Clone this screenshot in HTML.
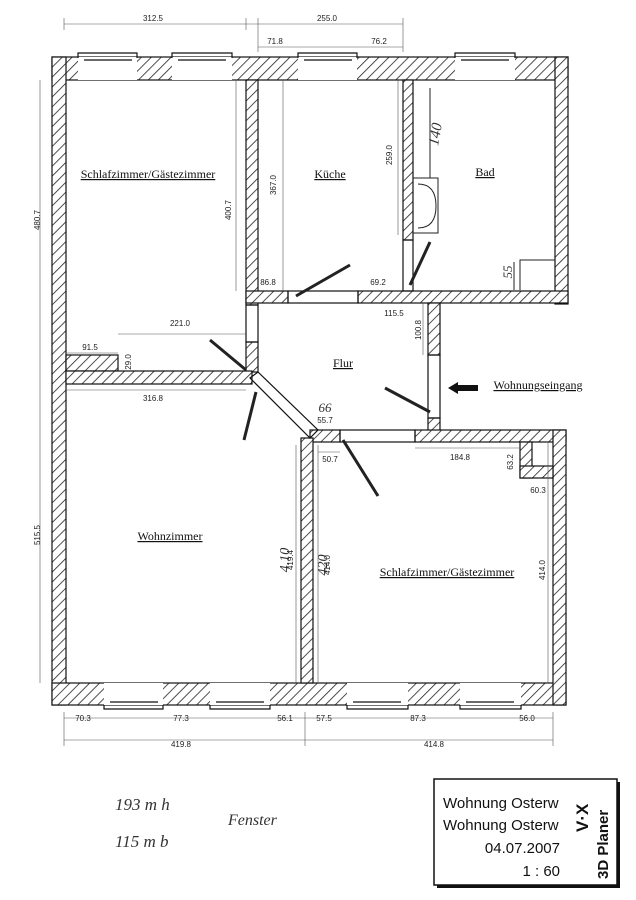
<!DOCTYPE html>
<html><head><meta charset="utf-8"><style>
body{margin:0;background:#fff;}
svg{display:block}
.d{font-family:"Liberation Sans",sans-serif;font-size:8px;fill:#222}
.r{font-family:"Liberation Serif",serif;font-size:12px;fill:#111;text-decoration:underline}
.h{font-family:"Liberation Serif",serif;font-style:italic;font-size:15px;fill:#333}
</style></head><body>
<svg width="636" height="900" viewBox="0 0 636 900" xmlns="http://www.w3.org/2000/svg">
<defs>
<pattern id="hp" patternUnits="userSpaceOnUse" width="7" height="7" patternTransform="rotate(45)">
<rect width="7" height="7" fill="#fff"/><line x1="0" y1="0" x2="0" y2="7" stroke="#222" stroke-width="1.6"/>
</pattern>
</defs>
<g fill="url(#hp)" stroke="#111" stroke-width="1.2">
<!-- top wall -->
<rect x="52" y="57" width="516" height="23"/>
<!-- left wall -->
<rect x="52" y="57" width="14" height="648"/>
<!-- bottom wall -->
<rect x="52" y="683" width="514" height="22"/>
<!-- kueche left wall -->
<rect x="246" y="80" width="12" height="225"/>
<rect x="246" y="342" width="12" height="30"/>
<!-- kueche/bad wall -->
<rect x="403" y="80" width="10" height="160"/>
<!-- bad right wall -->
<rect x="555" y="57" width="13" height="247"/>
<!-- bad/kueche bottom wall -->
<rect x="246" y="291" width="42" height="12"/>
<rect x="358" y="291" width="210" height="12"/>
<!-- flur right wall -->
<rect x="428" y="303" width="12" height="52"/>
<rect x="428" y="418" width="12" height="20"/>
<!-- stub + main horizontal -->
<rect x="66" y="355" width="52" height="16"/>
<rect x="66" y="371" width="186" height="13"/>
<!-- flur bottom wall -->
<rect x="310" y="430" width="30" height="12"/>
<rect x="415" y="430" width="151" height="12"/>
<!-- lower middle wall -->
<rect x="301" y="438" width="12" height="245"/>
<!-- lower right wall -->
<rect x="553" y="430" width="13" height="275"/>
<!-- closet -->
<rect x="520" y="442" width="12" height="36"/>
<rect x="520" y="466" width="33" height="12"/>
</g>
<!-- window openings -->
<g fill="#fff" stroke="#111" stroke-width="1">
<rect x="78" y="57" width="59" height="23" stroke="none"/>
<rect x="172" y="57" width="60" height="23" stroke="none"/>
<rect x="298" y="57" width="59" height="23" stroke="none"/>
<rect x="455" y="57" width="60" height="23" stroke="none"/>
<rect x="104" y="683" width="59" height="22" stroke="none"/>
<rect x="210" y="683" width="60" height="22" stroke="none"/>
<rect x="347" y="683" width="61" height="22" stroke="none"/>
<rect x="460" y="683" width="61" height="22" stroke="none"/>
</g>
<g fill="none" stroke="#111" stroke-width="1.2">
<path d="M78 58 v-5 h59 v5 M84 60 h48"/>
<path d="M172 58 v-5 h60 v5 M178 60 h48"/>
<path d="M298 58 v-5 h59 v5 M304 60 h48"/>
<path d="M455 58 v-5 h60 v5 M461 60 h48"/>
<path d="M104 705 v4 h59 v-4 M110 702 h48"/>
<path d="M210 705 v4 h60 v-4 M216 702 h48"/>
<path d="M347 705 v4 h61 v-4 M353 702 h48"/>
<path d="M460 705 v4 h61 v-4 M466 702 h48"/>
<!-- door frames -->
<rect x="288" y="291" width="70" height="12"/>
<rect x="403" y="240" width="10" height="51"/>
<rect x="246" y="305" width="12" height="37"/>
<rect x="428" y="355" width="12" height="63"/>
<rect x="340" y="430" width="75" height="12"/>
<path d="M250 378 L258 372 L318 430 L310 438 Z"/>
</g>
<!-- door swings -->
<g stroke="#222" stroke-width="3">
<line x1="296" y1="296" x2="350" y2="265"/>
<line x1="410" y1="285" x2="430" y2="242"/>
<line x1="246" y1="370" x2="210" y2="340"/>
<line x1="430" y1="412" x2="385" y2="388"/>
<line x1="343" y1="440" x2="378" y2="496"/>
<line x1="256" y1="392" x2="244" y2="440"/>
</g>
<!-- Bad fixtures -->
<g fill="none" stroke="#222" stroke-width="1">
<path d="M413 178 h25 v55 h-25 M418 184 q18 0 18 22 q0 22 -18 22"/>
<line x1="430" y1="88" x2="430" y2="178"/>
<path d="M520 290 v-30 h35 M514 262 v28"/>
</g>
<!-- dimension lines -->
<g stroke="#555" stroke-width="0.6" fill="none">
<line x1="64" y1="24" x2="403" y2="24"/>
<line x1="258" y1="47" x2="403" y2="47"/>
<line x1="64" y1="18" x2="64" y2="30"/><line x1="246" y1="18" x2="246" y2="30"/><line x1="258" y1="18" x2="258" y2="52"/><line x1="403" y1="18" x2="403" y2="52"/>
<line x1="40" y1="80" x2="40" y2="683"/>
<line x1="64" y1="718" x2="553" y2="718"/>
<line x1="64" y1="740" x2="553" y2="740"/>
<line x1="305" y1="712" x2="305" y2="746"/><line x1="64" y1="712" x2="64" y2="746"/><line x1="553" y1="712" x2="553" y2="746"/>
<line x1="236" y1="80" x2="236" y2="291"/>
<line x1="283" y1="80" x2="283" y2="291"/>
<line x1="398" y1="80" x2="398" y2="235"/>
<line x1="118" y1="334" x2="246" y2="334"/>
<line x1="66" y1="353" x2="118" y2="353"/>
<line x1="66" y1="390" x2="246" y2="390"/>
<line x1="318" y1="452" x2="340" y2="452"/>
<line x1="415" y1="448" x2="520" y2="448"/>
<line x1="423" y1="303" x2="423" y2="355"/>
<line x1="296" y1="445" x2="296" y2="683"/>
<line x1="318" y1="445" x2="318" y2="683"/>
<line x1="548" y1="442" x2="548" y2="683"/>
</g>
<g class="d">
<text x="153" y="21" text-anchor="middle">312.5</text>
<text x="327" y="21" text-anchor="middle">255.0</text>
<text x="275" y="44" text-anchor="middle">71.8</text>
<text x="379" y="44" text-anchor="middle">76.2</text>
<text x="268" y="285" text-anchor="middle">86.8</text>
<text x="378" y="285" text-anchor="middle">69.2</text>
<text x="394" y="316" text-anchor="middle">115.5</text>
<text x="180" y="326" text-anchor="middle">221.0</text>
<text x="90" y="350" text-anchor="middle">91.5</text>
<text x="153" y="401" text-anchor="middle">316.8</text>
<text x="325" y="423" text-anchor="middle">55.7</text>
<text x="330" y="462" text-anchor="middle">50.7</text>
<text x="460" y="460" text-anchor="middle">184.8</text>
<text x="538" y="493" text-anchor="middle">60.3</text>
<text x="83" y="721" text-anchor="middle">70.3</text>
<text x="181" y="721" text-anchor="middle">77.3</text>
<text x="285" y="721" text-anchor="middle">56.1</text>
<text x="324" y="721" text-anchor="middle">57.5</text>
<text x="418" y="721" text-anchor="middle">87.3</text>
<text x="527" y="721" text-anchor="middle">56.0</text>
<text x="181" y="747" text-anchor="middle">419.8</text>
<text x="434" y="747" text-anchor="middle">414.8</text>
<text transform="translate(40,220) rotate(-90)" text-anchor="middle">480.7</text>
<text transform="translate(231,210) rotate(-90)" text-anchor="middle">400.7</text>
<text transform="translate(276,185) rotate(-90)" text-anchor="middle">367.0</text>
<text transform="translate(392,155) rotate(-90)" text-anchor="middle">259.0</text>
<text transform="translate(40,535) rotate(-90)" text-anchor="middle">515.5</text>
<text transform="translate(131,362) rotate(-90)" text-anchor="middle">29.0</text>
<text transform="translate(421,330) rotate(-90)" text-anchor="middle">100.8</text>
<text transform="translate(513,462) rotate(-90)" text-anchor="middle">63.2</text>
<text transform="translate(293,560) rotate(-90)" text-anchor="middle">419.4</text>
<text transform="translate(330,565) rotate(-90)" text-anchor="middle">414.0</text>
<text transform="translate(545,570) rotate(-90)" text-anchor="middle">414.0</text>
</g>
<g class="r">
<text x="148" y="178" text-anchor="middle">Schlafzimmer/Gästezimmer</text>
<text x="330" y="178" text-anchor="middle">Küche</text>
<text x="485" y="176" text-anchor="middle">Bad</text>
<text x="343" y="367" text-anchor="middle">Flur</text>
<text x="538" y="389" text-anchor="middle">Wohnungseingang</text>
<text x="170" y="540" text-anchor="middle">Wohnzimmer</text>
<text x="447" y="576" text-anchor="middle">Schlafzimmer/Gästezimmer</text>
</g>
<path d="M448 388 l10 -6 v3 h20 v6 h-20 v3 z" fill="#111"/>
<g class="h">
<text transform="translate(440,135) rotate(-80)" text-anchor="middle">140</text>
<text transform="translate(512,272) rotate(-90)" text-anchor="middle" font-size="13">55</text>
<text x="325" y="412" text-anchor="middle" font-size="13">66</text>
<text transform="translate(289,560) rotate(-90)" text-anchor="middle" font-size="14">4.10</text>
<text transform="translate(327,565) rotate(-90)" text-anchor="middle" font-size="14">420</text>
<text x="115" y="810" font-size="17">193 m h</text>
<text x="115" y="847" font-size="17">115 m b</text>
<text x="228" y="825" font-size="16">Fenster</text>
</g>
<!-- title box -->
<rect x="437" y="782" width="183" height="106" fill="#111"/>
<rect x="434" y="779" width="183" height="106" fill="#fff" stroke="#111" stroke-width="1.5"/>
<g font-family="Liberation Sans,sans-serif" font-size="15" fill="#111">
<text x="443" y="808">Wohnung Osterw</text>
<text x="443" y="830">Wohnung Osterw</text>
<text x="560" y="853" text-anchor="end">04.07.2007</text>
<text x="560" y="876" text-anchor="end">1 : 60</text>
</g>
<text transform="translate(608,879) rotate(-90)" font-family="Liberation Sans,sans-serif" font-weight="bold" font-size="15" fill="#111">3D Planer</text>
<text transform="translate(588,832) rotate(-90)" font-family="Liberation Sans,sans-serif" font-weight="bold" font-size="17" fill="#111">V·X</text>
</svg>
</body></html>
